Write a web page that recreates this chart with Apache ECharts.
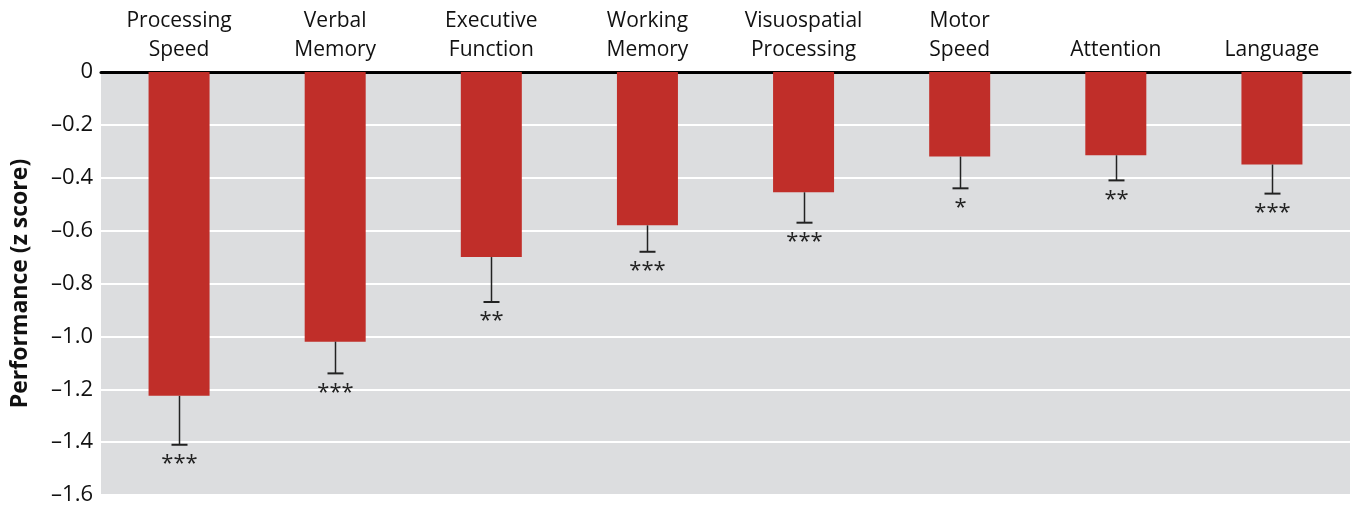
<!DOCTYPE html>
<html>
<head>
<meta charset="utf-8">
<script src="https://cdn.jsdelivr.net/npm/echarts@6/dist/echarts.min.js"></script>
<style>
  html, body { margin: 0; padding: 0; background: #fff; }
  #chart { width: 1358px; height: 508px; }
</style>
</head>
<body>
<div id="chart"></div>
<script>
// domains, mean z score, lower end of error bar, significance marks
var categories = ['Processing\nSpeed', 'Verbal\nMemory', 'Executive\nFunction', 'Working\nMemory',
  'Visuospatial\nProcessing', 'Motor\nSpeed', 'Attention', 'Language'];
var zScores = [-1.225, -1.02, -0.70, -0.58, -0.455, -0.32, -0.315, -0.35];
var errLow = [-1.41, -1.14, -0.87, -0.68, -0.57, -0.44, -0.41, -0.46];
var stars = ['***', '***', '**', '***', '***', '*', '**', '***'];
var yTicks = [0, -0.2, -0.4, -0.6, -0.8, -1.0, -1.2, -1.4, -1.6];

var font = '"Open Sans", "Noto Sans", sans-serif';

var chart = echarts.init(document.getElementById('chart'));

var errData = zScores.map(function (v, i) { return [i, v, errLow[i], stars[i]]; });

chart.setOption({
  animation: false,
  grid: {
    left: 101, right: 8, top: 72, bottom: 13,
    outerBoundsMode: 'none', containLabel: false,
    show: true, backgroundColor: '#dcdddf', borderWidth: 0
  },
  xAxis: {
    type: 'category',
    position: 'top',
    data: categories,
    axisLine: { show: true, lineStyle: { color: '#000', width: 3 } },
    axisTick: { show: false },
    axisLabel: { interval: 0, hideOverlap: false, color: '#111', fontSize: 21, fontFamily: font, lineHeight: 29, margin: 7 },
    splitLine: { show: false }
  },
  yAxis: {
    type: 'value',
    min: -1.6, max: 0, interval: 0.2,
    name: 'Performance (z score)',
    nameLocation: 'middle',
    nameGap: 69,
    nameTextStyle: { color: '#111', fontSize: 23, fontWeight: 'bold', fontFamily: font },
    axisLine: { show: false },
    axisTick: { show: false },
    axisLabel: {
      color: '#111', fontSize: 22, fontFamily: font, margin: 8,
      formatter: function (v) {
        if (Math.abs(v) < 1e-9) return '0';
        return '\u2013' + Math.abs(v).toFixed(1);
      }
    },
    splitLine: { show: true, lineStyle: { color: '#ffffff', width: 2 } }
  },
  series: [
    {
      type: 'bar',
      data: zScores,
      barWidth: 61,
      itemStyle: { color: '#c02e29' },
      z: 2
    },
    {
      type: 'custom',
      data: errData,
      z: 3,
      renderItem: function (params, api) {
        var top = api.coord([api.value(0), api.value(1)]);
        var bot = api.coord([api.value(0), api.value(2)]);
        var x = Math.round(top[0]) + 0.5;
        var half = 8;
        return {
          type: 'group',
          children: [
            { type: 'line', shape: { x1: x, y1: top[1], x2: x, y2: bot[1] },
              style: { stroke: '#222', lineWidth: 1.5 } },
            { type: 'line', shape: { x1: x - half, y1: bot[1], x2: x + half, y2: bot[1] },
              style: { stroke: '#222', lineWidth: 2 } },
            { type: 'text', x: x, y: bot[1] + 8,
              style: { text: errData[params.dataIndex][3], fill: '#222', font: '22px ' + font,
                align: 'center', verticalAlign: 'top' } }
          ]
        };
      }
    }
  ]
});
</script>
</body>
</html>
